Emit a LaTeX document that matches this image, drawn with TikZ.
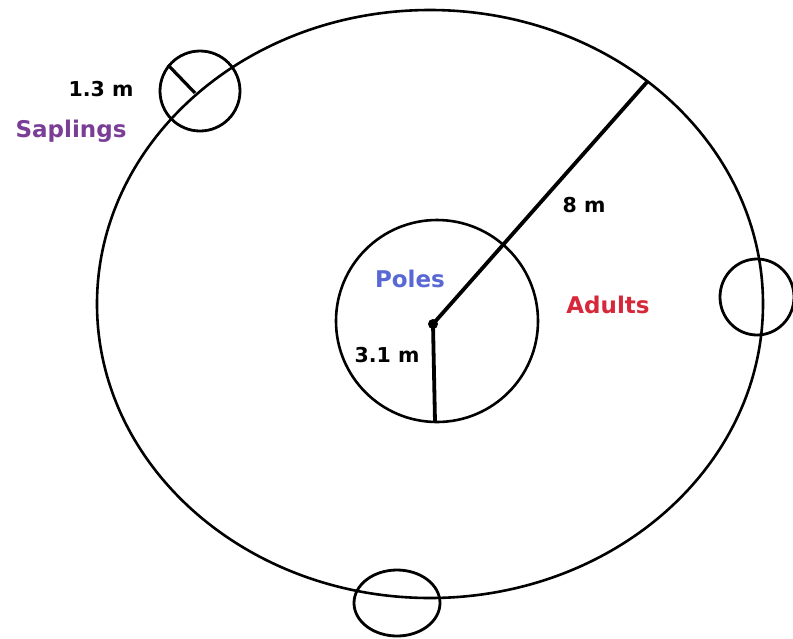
\documentclass[tikz,border=0pt]{standalone}
\usepackage{fontspec}
\setmainfont{DejaVu Sans}
\definecolor{adultred}{RGB}{214,40,58}
\definecolor{sappurple}{RGB}{122,62,150}
\definecolor{poleblue}{RGB}{88,104,212}
\begin{document}
\begin{tikzpicture}[x=1pt,y=-1pt,
  outline/.style={draw=black,line width=2.6pt},
  radline/.style={draw=black,line width=3.8pt},
  plotc/.style={draw=black,line width=2.8pt},
  word/.style={font=\bfseries\fontsize{23}{25}\selectfont,anchor=base,inner sep=0pt},
  num/.style={font=\bfseries\fontsize{20.5}{22}\selectfont,anchor=base,inner sep=0pt,text=black}]
\useasboundingbox[fill=white] (0,0) rectangle (793,638);
% outer stand (adults)
\draw[outline] (430,304) ellipse [x radius=333pt, y radius=294pt];
% inner circle (poles)
\draw[outline] (437,321) circle [radius=101pt];
% sapling plots
\draw[plotc] (200,91) circle [radius=40pt];
\draw[plotc] (757,297) ellipse [x radius=37pt, y radius=38pt];
\draw[plotc] (397,603) ellipse [x radius=43pt, y radius=33pt];
% radii
\coordinate (c) at (433,324);
\coordinate (p8) at (647,82);
\coordinate (p3) at (435,422);
\coordinate (s1) at (168,65);
\coordinate (s2) at (195,93);
\draw[radline] (c) -- (p8);
\draw[radline] (c) -- (p3);
\draw[line width=3.2pt] (s1) -- (s2);
\fill (c) circle [radius=5pt];
% labels
\node[num] (l8) at (584,212) {8 m};
\node[num] (l31) at (387,362) {3.1 m};
\node[num] (l13) at (101,96) {1.3 m};
\node[word,text=poleblue] (lp) at (410,287) {Poles};
\node[word,text=adultred] (la) at (608,313) {Adults};
\node[word,text=sappurple] (ls) at (71,137) {Saplings};
\end{tikzpicture}
\end{document}
